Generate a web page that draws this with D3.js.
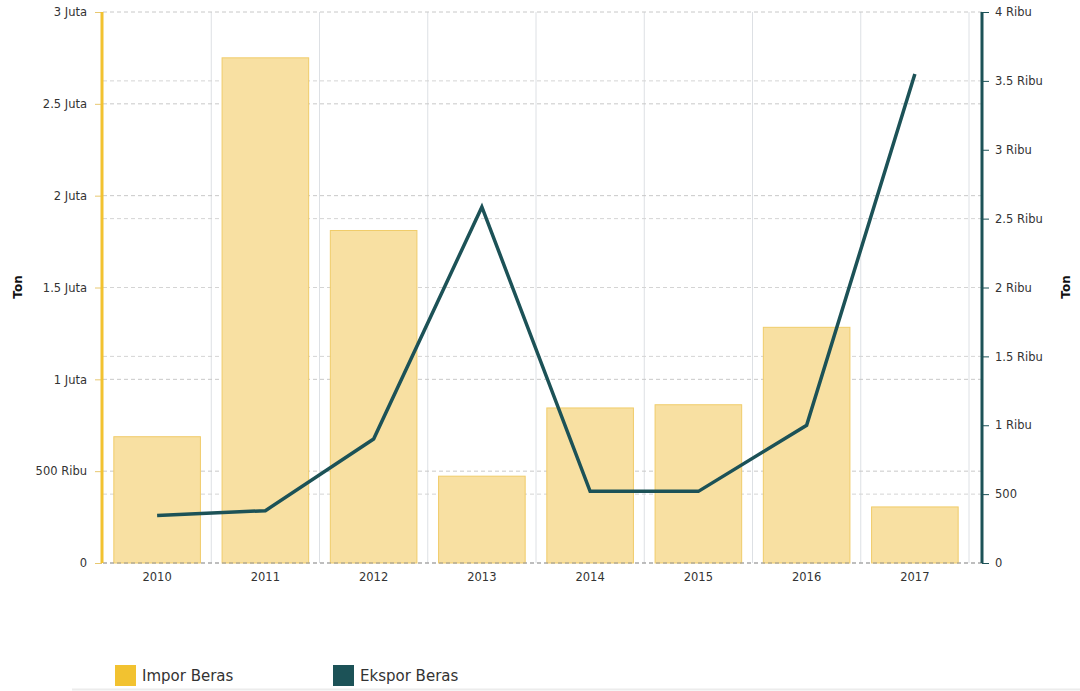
<!DOCTYPE html>
<html><head><meta charset="utf-8">
<script src="https://cdn.jsdelivr.net/npm/d3@7"></script>
<style>
body{margin:0;background:#fff;}
svg{display:block;font-family:"DejaVu Sans",Verdana,sans-serif;}
</style></head>
<body><svg id="c" width="1080" height="691"></svg>
<script>
const years = ["2010","2011","2012","2013","2014","2015","2016","2017"];
const imporBeras = [687582, 2750476, 1810372, 472665, 844164, 861601, 1283178, 305275];
const eksporBeras = [345, 380, 900, 2585, 520, 520, 1000, 3550];
const leftTicks = [0, 500000, 1000000, 1500000, 2000000, 2500000, 3000000];
const rightTicks = [0, 500, 1000, 1500, 2000, 2500, 3000, 3500, 4000];
const legendItems = ["Impor Beras", "Ekspor Beras"];

(function(){
const svg = d3.select("#c");
const FONT = "'DejaVu Sans', Verdana, sans-serif";
const pTop = 12, pBottom = 563, pLeft = 103, pRight = 969, rAxisX = 982;
const x = d3.scaleBand().domain(years).range([pLeft, pRight]).paddingInner(0.2).paddingOuter(0.1);
const yL = d3.scaleLinear().domain([0, 3000000]).range([pBottom, pTop]);
const yR = d3.scaleLinear().domain([0, 4000]).range([pBottom, pTop]);

const fmtL = v => v === 0 ? "0" : v >= 1000000 ? (v/1000000) + " Juta" : (v/1000) + " Ribu";
const fmtR = v => v === 0 ? "0" : v >= 1000 ? (v/1000) + " Ribu" : String(v);

// vertical grid at band boundaries
const bounds = years.map(d => x(d) - x.step()*0.1).slice(1).concat([pRight]);
svg.append("g").selectAll("line").data(bounds).join("line")
  .attr("x1", d => d).attr("x2", d => d).attr("y1", pTop).attr("y2", pBottom)
  .attr("stroke", "#dde0e4").attr("stroke-width", 1);

// horizontal grid (both axes)
const gridG = svg.append("g");
gridG.selectAll("line.l").data(leftTicks).join("line").attr("class","l")
  .attr("x1", pLeft).attr("x2", rAxisX).attr("y1", d => yL(d)).attr("y2", d => yL(d))
  .attr("stroke", "#c8c8c8").attr("stroke-dasharray", "4,3");
gridG.selectAll("line.r").data(rightTicks.filter(d => d % 1000 !== 0 || d === 2000)).join("line").attr("class","r")
  .attr("x1", pLeft).attr("x2", rAxisX).attr("y1", d => yR(d)).attr("y2", d => yR(d))
  .attr("stroke", "#d4d4d4").attr("stroke-dasharray", "4,3");

// bars
svg.append("g").selectAll("rect").data(years).join("rect")
  .attr("x", d => x(d)).attr("width", x.bandwidth())
  .attr("y", (d,i) => yL(imporBeras[i])).attr("height", (d,i) => pBottom - yL(imporBeras[i]))
  .attr("fill", "#f8e0a2").attr("stroke", "#f0cc6a").attr("stroke-width", 1);

// baseline dashed
svg.append("line").attr("x1", pLeft).attr("x2", rAxisX).attr("y1", pBottom).attr("y2", pBottom)
  .attr("stroke", "#999").attr("stroke-dasharray", "4,3");

// line
const line = d3.line().x((d,i) => x(years[i]) + x.bandwidth()/2).y(d => yR(d));
svg.append("path").datum(eksporBeras).attr("d", line)
  .attr("fill", "none").attr("stroke", "#1c5257").attr("stroke-width", 3.5).attr("stroke-linejoin", "miter");

// left axis
const gL = svg.append("g").attr("transform", `translate(${pLeft-1},0)`)
  .call(d3.axisLeft(yL).tickValues(leftTicks).tickFormat(fmtL).tickSize(7).tickPadding(8));
gL.attr("font-family", FONT);
gL.select(".domain").remove();
gL.selectAll(".tick line").attr("stroke", "#e8c870");
gL.selectAll("text").attr("fill", "#333").style("font-size", "11.5px");
svg.append("line").attr("x1", pLeft-1).attr("x2", pLeft-1).attr("y1", pTop).attr("y2", pBottom)
  .attr("stroke", "#f2c230").attr("stroke-width", 3);

// right axis
const gR = svg.append("g").attr("transform", `translate(${rAxisX},0)`)
  .call(d3.axisRight(yR).tickValues(rightTicks).tickFormat(fmtR).tickSize(7).tickPadding(6));
gR.attr("font-family", FONT);
gR.select(".domain").remove();
gR.selectAll(".tick line").attr("stroke", "#1c5257");
gR.selectAll("text").attr("fill", "#333").style("font-size", "11.5px");
svg.append("line").attr("x1", rAxisX).attr("x2", rAxisX).attr("y1", pTop).attr("y2", pBottom)
  .attr("stroke", "#1c5257").attr("stroke-width", 3);

// x axis labels
const gX = svg.append("g").attr("transform", `translate(0,${pBottom})`)
  .call(d3.axisBottom(x).tickSize(0).tickPadding(10));
gX.attr("font-family", FONT);
gX.select(".domain").remove();
gX.selectAll("text").attr("fill", "#333").style("font-size", "11.5px");

// axis titles
svg.append("text").attr("transform", `translate(22,287) rotate(-90)`).attr("text-anchor","middle")
  .style("font-size","12px").style("font-weight","bold").attr("fill","#111").text("Ton");
svg.append("text").attr("transform", `translate(1070,287) rotate(-90)`).attr("text-anchor","middle")
  .style("font-size","12px").style("font-weight","bold").attr("fill","#111").text("Ton");

// legend
const legColors = ["#f2c230", "#1c5257"];
const legX = [115, 333];
const lg = svg.append("g").selectAll("g").data(legendItems).join("g")
  .attr("transform", (d,i) => `translate(${legX[i]},665)`);
lg.append("rect").attr("width", 21).attr("height", 21).attr("fill", (d,i) => legColors[i]);
lg.append("text").attr("x", 27).attr("y", 16).style("font-size","15px").attr("fill","#333").text(d => d);

// faint bottom line
svg.append("line").attr("x1", 72).attr("x2", 1080).attr("y1", 689.5).attr("y2", 689.5)
  .attr("stroke", "#ececec").attr("stroke-width", 2);
})();
</script></body></html>
